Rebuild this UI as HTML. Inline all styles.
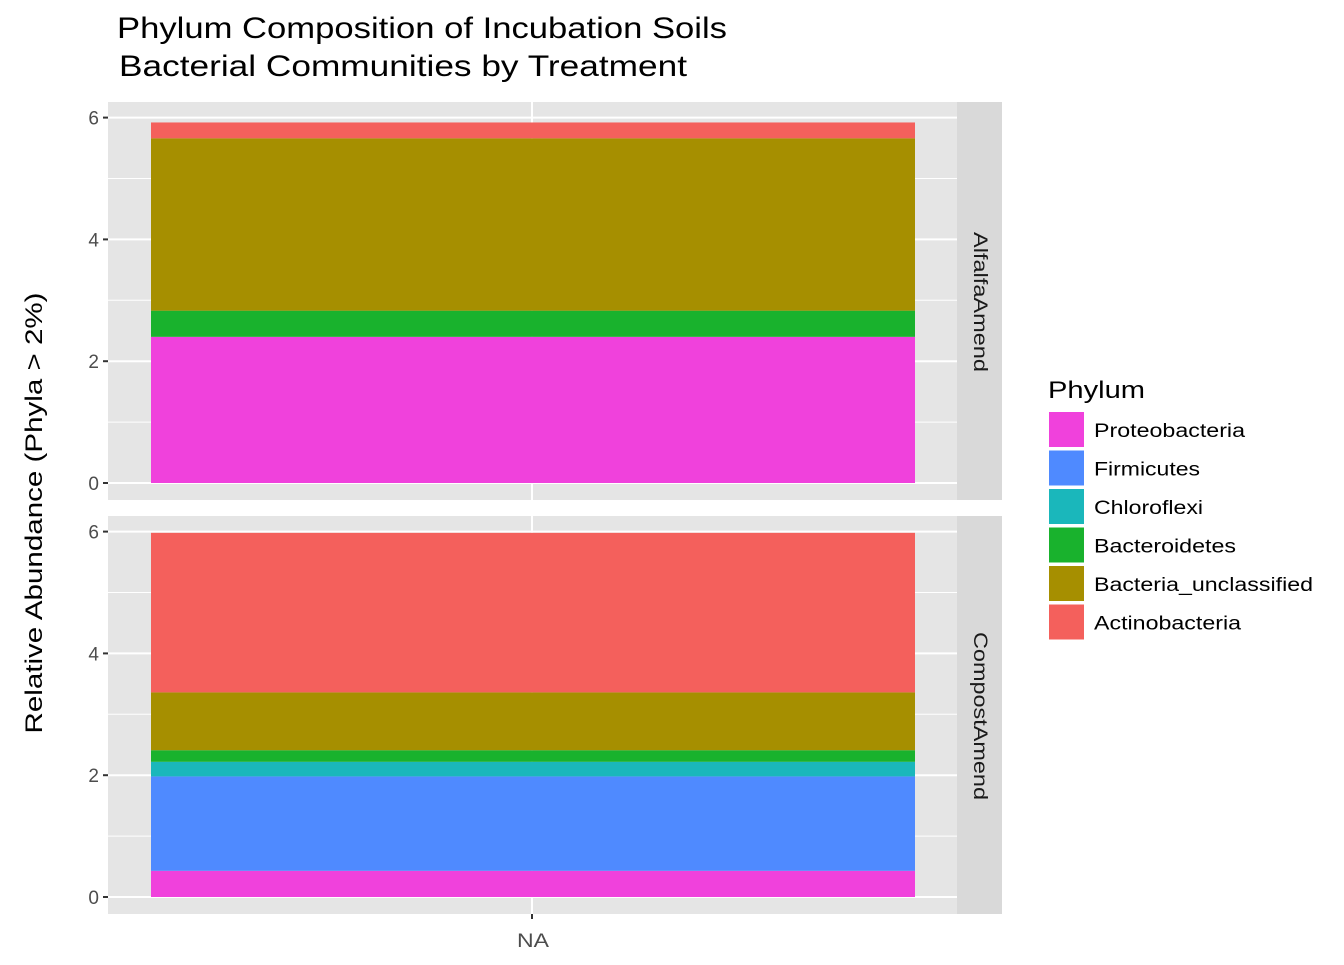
<!DOCTYPE html>
<html><head><meta charset="utf-8"><style>
body{margin:0;background:#fff;font-family:"Liberation Sans",Arial,sans-serif}
svg text{font-family:"Liberation Sans",Arial,sans-serif}
</style></head><body>
<svg id="chart" width="1344" height="960" xmlns="http://www.w3.org/2000/svg">
<text x="117" y="38" font-size="30" textLength="610" lengthAdjust="spacingAndGlyphs" fill="#000">Phylum Composition of Incubation Soils</text>
<text x="119" y="76" font-size="30" textLength="568" lengthAdjust="spacingAndGlyphs" fill="#000">Bacterial Communities by Treatment</text>
<text transform="translate(42,513) rotate(-90)" text-anchor="middle" font-size="24" textLength="441" lengthAdjust="spacingAndGlyphs" fill="#000">Relative Abundance (Phyla &gt; 2%)</text>
<g id="panels"></g>
<text x="533" y="947" text-anchor="middle" font-size="19" textLength="32" lengthAdjust="spacingAndGlyphs" fill="#4d4d4d">NA</text>
<text x="1048" y="398" font-size="24" textLength="97" lengthAdjust="spacingAndGlyphs" fill="#000">Phylum</text>
<g id="legend"></g>
</svg>
<script>
const phyla = ["Proteobacteria","Firmicutes","Chloroflexi","Bacteroidetes","Bacteria_unclassified","Actinobacteria"];
const colors = ["#F041DC","#4F8AFF","#1AB7BB","#19B22D","#A68F00","#F4605C"];
const facets = ["AlfalfaAmend","CompostAmend"];
const alfalfaValues = [2.40,0,0,0.43,2.83,0.26];
const compostValues = [0.43,1.55,0.24,0.19,0.95,2.62];
const yTicks = [0,2,4,6];
const legendWidths=[151,106,109,142,219,147];
const facetWidths=[140,168];
const NS="http://www.w3.org/2000/svg";
const svg=document.getElementById('panels');
function mk(tag,attrs,parent){const e=document.createElementNS(NS,tag);for(const k in attrs)e.setAttribute(k,attrs[k]);(parent||svg).appendChild(e);return e;}
const panelTops=[102,516], panelH=398, x0=108, x1=957;
const seriesByFacet=[alfalfaValues,compostValues];
facets.forEach((f,pi)=>{
  const top=panelTops[pi];
  const y0=top+381, scale=60.9;
  const y=v=>y0-v*scale;
  const bg=mk('rect',{x:x0,y:top,width:x1-x0,height:panelH,fill:'#e5e5e5'});
  
  
  [1,3,5].forEach(v=>{const l=mk('line',{x1:x0,x2:x1,y1:y(v),y2:y(v),stroke:'#fff','stroke-width':1});
    });
  yTicks.forEach(v=>{const l=mk('line',{x1:x0,x2:x1,y1:y(v),y2:y(v),stroke:'#fff','stroke-width':2});
    
    const t=mk('line',{x1:x0-5,x2:x0,y1:y(v),y2:y(v),stroke:'#333','stroke-width':2});
    
    const tx=mk('text',{x:x0-9,y:y(v)+7,'text-anchor':'end','font-size':19,fill:'#4d4d4d'});tx.textContent=v;
    });
  const vl=mk('line',{x1:532,x2:532,y1:top,y2:top+panelH,stroke:'#fff','stroke-width':2});
  
  let cum=0;
  seriesByFacet[pi].forEach((v,i)=>{
    if(v<=0)return;
    const r=mk('rect',{x:151,width:764,y:y(cum+v),height:v*scale,fill:colors[i]});
    
    
    cum+=v;
  });
  const st=mk('rect',{x:957,y:top,width:45,height:panelH,fill:'#d9d9d9'});
  
  const cx=979.5, cy=top+panelH/2+1;
  const lt=mk('text',{transform:`translate(${cx},${cy}) rotate(90)`,'text-anchor':'middle','dominant-baseline':'central','font-size':19,textLength:facetWidths[pi],lengthAdjust:'spacingAndGlyphs',fill:'#1a1a1a'});
  lt.textContent=f;
  
  if(pi===1){const t=mk('line',{x1:532,x2:532,y1:top+panelH,y2:top+panelH+5,stroke:'#333','stroke-width':2});
    }
});
const lg=document.getElementById('legend');
phyla.forEach((p,i)=>{
  const yy=412+i*38.5;
  const r=mk('rect',{x:1049,y:yy,width:35,height:35,fill:colors[i]},lg);
  
  const t=mk('text',{x:1094,y:yy+25,'font-size':19,textLength:legendWidths[i],lengthAdjust:'spacingAndGlyphs',fill:'#000'},lg);t.textContent=p;
  
});
</script>
</body></html>
